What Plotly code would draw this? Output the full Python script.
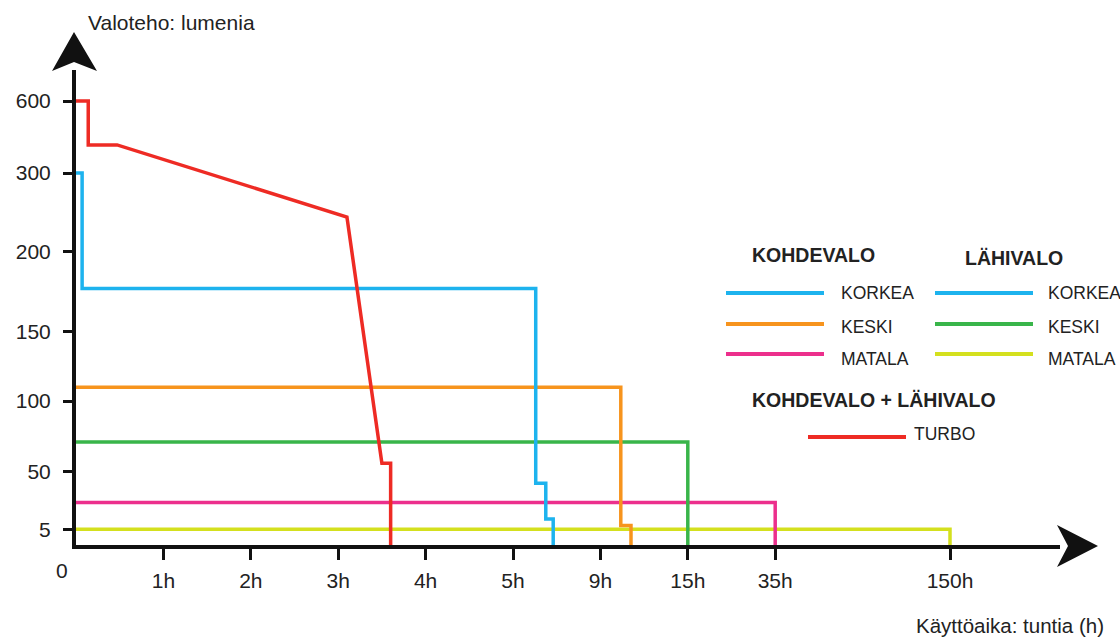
import numpy as np
import plotly.graph_objects as go

# ---- axis scales (hand-drawn, non-linear) ----
HOUR_TICKS = [0, 1, 2, 3, 4, 5, 9, 15, 35, 150]
HOUR_LABELS = ["", "1h", "2h", "3h", "4h", "5h", "9h", "15h", "35h", "150h"]
HOUR_POS = [0, 1, 2, 3, 4, 5, 6, 7, 8, 10]

LUMEN_TICKS = [0, 5, 50, 100, 150, 200, 300, 600]
LUMEN_LABELS = ["", "5", "50", "100", "150", "200", "300", "600"]
LUMEN_POS = [0, 15.7, 73.3, 144, 213.3, 293.3, 372, 444]

# ---- series (hours, lumens) ----
turbo_h = [0, 0.14, 0.14, 0.47, 3.10, 3.50, 3.60, 3.60]
turbo_lm = [600, 600, 417, 417, 244, 56, 56, 0]

korkea_h = [0, 0.07, 0.07, 6.04, 6.04, 6.50, 6.50, 6.84, 6.84]
korkea_lm = [300, 300, 177, 177, 41, 41, 13, 13, 0]

keski_k_h = [0, 10.4, 10.4, 11.1, 11.1]
keski_k_lm = [110, 110, 8, 8, 0]

keski_l_h = [0, 15, 15]
keski_l_lm = [71, 71, 0]

matala_k_h = [0, 35, 35]
matala_k_lm = [26, 26, 0]

matala_l_h = [0, 150, 150]
matala_l_lm = [5, 5, 0]

BLUE = "#1DB3EE"
ORANGE = "#F7941D"
PINK = "#EC2F8C"
GREEN = "#39B54A"
YELLOW = "#D4E01E"
RED = "#EE2B24"

def xs(h):
    return np.interp(h, HOUR_TICKS, HOUR_POS)

def ys(lm):
    return np.interp(lm, LUMEN_TICKS, LUMEN_POS)

# plot area in pixels
L, R, T, B = 76, 1060, 70, 545
W, H = R - L, B - T
UNIT_X = 87.4

def fx(px):
    return (px - L) / W

def fy(py):
    return (B - py) / H

fig = go.Figure()

series = [
    (matala_l_h, matala_l_lm, YELLOW),
    (matala_k_h, matala_k_lm, PINK),
    (keski_l_h, keski_l_lm, GREEN),
    (keski_k_h, keski_k_lm, ORANGE),
    (korkea_h, korkea_lm, BLUE),
    (turbo_h, turbo_lm, RED),
]
for h, lm, c in series:
    fig.add_trace(go.Scatter(x=xs(h), y=ys(lm), mode="lines",
                             line=dict(color=c, width=3.5),
                             hoverinfo="skip", showlegend=False))

FONT = "Liberation Sans, Arial, Helvetica, sans-serif"
TXT = "#222222"

shapes = []
annotations = []

def path(pts):
    s = "M " + " L ".join(f"{fx(a):.5f},{fy(b):.5f}" for a, b in pts) + " Z"
    return s

# arrowheads
shapes.append(dict(type="path", xref="paper", yref="paper",
                   path=path([(1057, 525), (1098, 546), (1057, 567), (1068, 546)]),
                   fillcolor="#111", line=dict(width=0)))
shapes.append(dict(type="path", xref="paper", yref="paper",
                   path=path([(52, 71), (74, 32), (97, 71), (74, 62)]),
                   fillcolor="#111", line=dict(width=0)))

def leg_line(x0, x1, y, c):
    shapes.append(dict(type="line", xref="paper", yref="paper",
                       x0=fx(x0), x1=fx(x1), y0=fy(y), y1=fy(y),
                       line=dict(color=c, width=4)))

def text(t, x, y, size, bold=False, xanchor="left"):
    annotations.append(dict(text=t, xref="paper", yref="paper",
                            x=fx(x), y=fy(y), xanchor=xanchor, yanchor="middle",
                            showarrow=False,
                            font=dict(family=FONT, size=size, color=TXT,
                                      weight="bold" if bold else "normal")))

# legend
text("KOHDEVALO", 750, 255, 19.5, True)
text("LÄHIVALO", 963, 258, 19.5, True)
text("KOHDEVALO + LÄHIVALO", 750, 400, 19.5, True)
leg_items_left = [("KORKEA", BLUE, 293, 293), ("KESKI", ORANGE, 324, 327), ("MATALA", PINK, 354, 359)]
leg_items_right = [("KORKEA", BLUE, 293, 293), ("KESKI", GREEN, 324, 327), ("MATALA", YELLOW, 354, 359)]
for lab, c, ly, ty in leg_items_left:
    leg_line(726, 824, ly, c)
    text(lab, 839, ty, 17.5)
for lab, c, ly, ty in leg_items_right:
    leg_line(935, 1033, ly, c)
    text(lab, 1046, ty, 17.5)
leg_line(808, 906, 437, RED)
text("TURBO", 912, 434, 17.5)

# axis titles and origin
text("Valoteho: lumenia", 86, 22, 21)
text("Käyttöaika: tuntia (h)", 1106, 625, 20.5, xanchor="right")
text("0", 62, 570, 21, xanchor="center")

fig.update_layout(
    width=1120, height=637,
    margin=dict(l=L, r=1120 - R, t=T, b=637 - B, pad=0),
    paper_bgcolor="white", plot_bgcolor="white",
    showlegend=False,
    shapes=shapes, annotations=annotations,
    font=dict(family=FONT, color=TXT),
)
fig.update_xaxes(range=[0, W / UNIT_X], tickvals=HOUR_POS[1:], ticktext=HOUR_LABELS[1:],
                 showgrid=False, zeroline=False, showline=True, linecolor="#111", linewidth=4,
                 ticks="outside", ticklen=11, tickwidth=3, tickcolor="#111",
                 ticklabelstandoff=3,
                 tickfont=dict(family=FONT, size=21, color=TXT), fixedrange=True)
fig.update_yaxes(range=[0, H], tickvals=LUMEN_POS[1:], ticktext=LUMEN_LABELS[1:],
                 showgrid=False, zeroline=False, showline=True, linecolor="#111", linewidth=4,
                 ticks="outside", ticklen=9, tickwidth=3, tickcolor="#111",
                 ticklabelstandoff=8,
                 tickfont=dict(family=FONT, size=21, color=TXT), fixedrange=True)

fig.write_html("out.html", config={"displayModeBar": False},
               post_script="document.body.style.margin='0';document.body.style.overflow='hidden';")
